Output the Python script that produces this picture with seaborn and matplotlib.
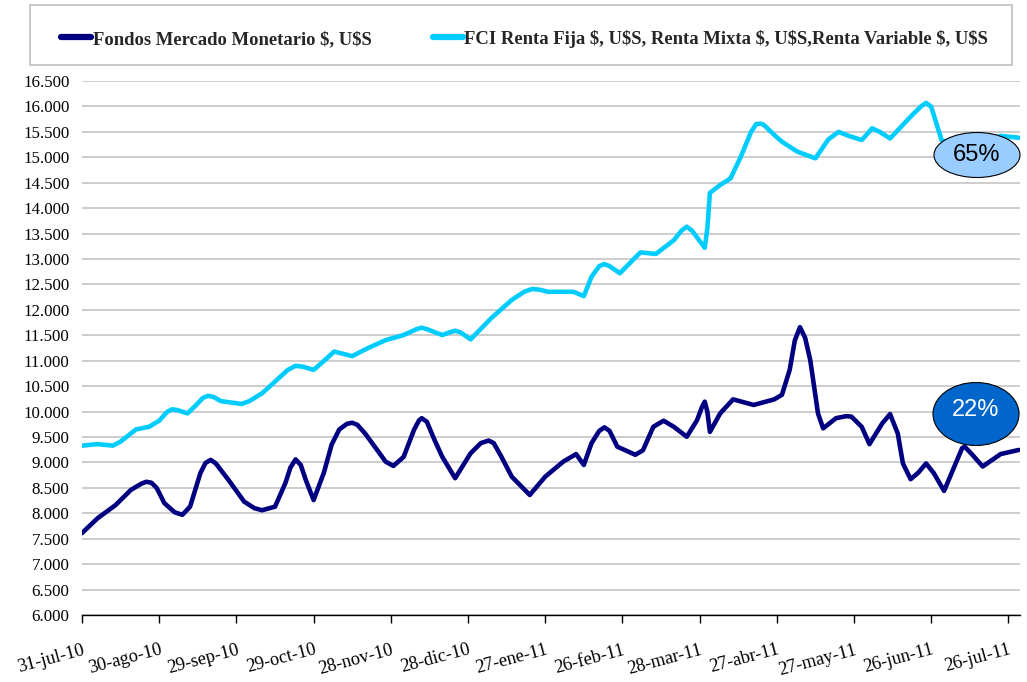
import numpy as np
import pandas as pd
import matplotlib
matplotlib.use("Agg")
import matplotlib.pyplot as plt
import seaborn as sns
from matplotlib.patches import Ellipse, Rectangle
from matplotlib.lines import Line2D
from matplotlib.ticker import FuncFormatter

# ---- data (days since 31-jul-10, values) ----
x_labels = ["31-jul-10", "30-ago-10", "29-sep-10", "29-oct-10", "28-nov-10", "28-dic-10",
            "27-ene-11", "26-feb-11", "28-mar-11", "27-abr-11", "27-may-11", "26-jun-11", "26-jul-11"]
x_tick_days = [0, 30, 60, 90, 120, 150, 180, 210, 240, 270, 300, 330, 360]

mm_label = "Fondos Mercado Monetario $, U$S"
mm_days = [0, 6, 13, 19, 23, 25, 27, 29, 32, 36, 39, 42, 46, 48, 50, 52, 57, 63, 67, 70, 75,
           79, 81, 83, 85, 87, 90, 94, 97, 100, 103, 105, 107, 110, 118, 121, 125, 129, 131,
           132, 134, 137, 140, 145, 151, 155, 158, 160, 163, 167, 174, 180, 187, 192, 195, 198,
           201, 203, 205, 208, 215, 218, 222, 226, 230, 235, 239, 241, 242, 243, 244, 248, 253,
           261, 269, 272, 275, 277, 279, 281, 283, 286, 288, 293, 297, 299, 303, 306, 311, 314,
           317, 319, 322, 325, 328, 331, 335, 339, 342, 343, 346, 350, 357, 364]
mm_vals = [7610, 7900, 8160, 8460, 8580, 8620, 8600, 8500, 8200, 8020, 7970, 8130, 8790, 8990,
           9050, 8980, 8650, 8230, 8100, 8060, 8130, 8590, 8900, 9060, 8950, 8650, 8260, 8800,
           9350, 9650, 9760, 9780, 9740, 9570, 9015, 8930, 9110, 9640, 9830, 9870, 9800, 9440,
           9110, 8690, 9180, 9380, 9430, 9380, 9110, 8720, 8360, 8720, 9015, 9165, 8950, 9380,
           9620, 9690, 9620, 9310, 9150, 9240, 9700, 9820, 9700, 9505, 9830, 10100, 10195,
           10000, 9600, 9965, 10240, 10130, 10240, 10330, 10820, 11400, 11660, 11450, 11010,
           9965, 9670, 9870, 9910, 9900, 9700, 9360, 9770, 9950, 9570, 8980, 8670, 8800, 8980,
           8790, 8440, 8920, 9280, 9310, 9150, 8920, 9165, 9245]

fci_label = "FCI Renta Fija $, U$S, Renta Mixta $, U$S,Renta Variable $, U$S"
fci_days = [0, 6, 12, 15, 21, 26, 30, 33, 35, 37, 41, 44, 47, 49, 51, 54, 62, 65, 70, 75, 80,
            83, 86, 90, 93, 98, 105, 111, 118, 125, 130, 132, 134, 140, 143, 145, 147, 151,
            159, 167, 172, 175, 178, 181, 191, 195, 198, 201, 203, 205, 209, 217, 223, 230,
            233, 235, 237, 242, 243, 244, 248, 252, 256, 260, 262, 264, 265, 269, 272, 278,
            285, 290, 294, 298, 303, 305, 307, 310, 314, 322, 326, 328, 330, 334, 340, 350,
            357, 364]
fci_vals = [9330, 9360, 9330, 9410, 9650, 9700, 9820, 9990, 10045, 10030, 9965, 10110, 10270,
            10310, 10290, 10205, 10150, 10205, 10360, 10590, 10820, 10900, 10880, 10820, 10950,
            11180, 11090, 11245, 11405, 11505, 11620, 11650, 11620, 11505, 11560, 11590, 11560,
            11420, 11835, 12195, 12360, 12410, 12395, 12355, 12355, 12270, 12650, 12860, 12900,
            12860, 12720, 13130, 13100, 13370, 13560, 13635, 13560, 13220, 13600, 14300, 14455,
            14585, 15010, 15500, 15655, 15660, 15635, 15440, 15305, 15110, 14980, 15350, 15500,
            15420, 15340, 15450, 15570, 15500, 15370, 15800, 16000, 16070, 15995, 15340, 15200,
            15300, 15420, 15385]

annot_text = ["65%", "22%"]

# ---- style ----
sns.set_theme(style="white")
plt.rcParams['font.family'] = ['Liberation Serif', 'DejaVu Serif']
plt.rcParams['text.parse_math'] = False

W, H = 1027, 682
fig = plt.figure(figsize=(W / 100, H / 100), dpi=100)
ax = fig.add_axes([82 / W, (H - 615) / H, (1020 - 82) / W, (615 - 81) / H])

dark = "#000080"
cyan = "#00ccff"

df_mm = pd.DataFrame({"dia": mm_days, "valor": mm_vals})
df_fci = pd.DataFrame({"dia": fci_days, "valor": fci_vals})
sns.lineplot(data=df_mm, x="dia", y="valor", ax=ax, color=dark, lw=3.3,
             estimator=None, sort=False, solid_joinstyle="round", solid_capstyle="round", zorder=3)
sns.lineplot(data=df_fci, x="dia", y="valor", ax=ax, color=cyan, lw=3.3,
             estimator=None, sort=False, solid_joinstyle="round", solid_capstyle="round", zorder=3)

ax.set_xlim(0, 364.5)
ax.set_ylim(6000, 16500)
ax.set_yticks(np.arange(6000, 16501, 500))
ax.yaxis.set_major_formatter(FuncFormatter(lambda v, p: f"{v:,.0f}".replace(",", ".")))
ax.set_xticks(x_tick_days)
ax.set_xticklabels(x_labels, rotation=15, ha="right", rotation_mode="anchor")
ax.set_xlabel("")
ax.set_ylabel("")
ax.yaxis.grid(True, color="#c0c0c0", lw=1.1)
ax.set_axisbelow(True)
for s in ["top", "right", "left"]:
    ax.spines[s].set_visible(False)
ax.spines["bottom"].set_color("black")
ax.spines["bottom"].set_linewidth(1.0)
ax.tick_params(axis="x", direction="out", length=6, width=1, color="black",
               labelsize=13.2, pad=13, bottom=True)
ax.tick_params(axis="y", length=0, labelsize=12.2, pad=9)
for lab in ax.get_xticklabels() + ax.get_yticklabels():
    lab.set_color("black")

# ---- legend ----
rect = Rectangle((30 / W, 1 - 65 / H), 982 / W, 60 / H, transform=fig.transFigure,
                 fill=False, edgecolor="#bfbfbf", lw=1.2)
fig.patches.append(rect)
handles = [Line2D([], [], color=dark, lw=4.5, solid_capstyle="round"),
           Line2D([], [], color=cyan, lw=4.5, solid_capstyle="round")]
fig.legend(handles, [mm_label, fci_label], ncol=2, loc="center left",
           bbox_to_anchor=(61 / W, 1 - 39 / H), frameon=False, borderpad=0, borderaxespad=0,
           handlelength=1.6, handletextpad=0.1, columnspacing=3.3,
           prop=dict(family="Liberation Serif", weight="bold", size=13.4))

# ---- annotation ellipses ----
e1 = Ellipse((977 / W, 1 - 155 / H), 86 / W, 45 / H, transform=fig.transFigure,
             facecolor="#99ccff", edgecolor="black", lw=0.8, zorder=5)
e2 = Ellipse((976 / W, 1 - 414 / H), 86 / W, 63 / H, transform=fig.transFigure,
             facecolor="#0066cc", edgecolor="black", lw=0.8, zorder=5)
fig.patches.extend([e1, e2])
fig.text(977 / W, 1 - 155 / H, annot_text[0], ha="center", va="center", color="black",
         family="Liberation Sans", size=17, zorder=6)
fig.text(976 / W, 1 - 410 / H, annot_text[1], ha="center", va="center", color="white",
         family="Liberation Sans", size=17, zorder=6)

fig.savefig("out.png", dpi=100)
